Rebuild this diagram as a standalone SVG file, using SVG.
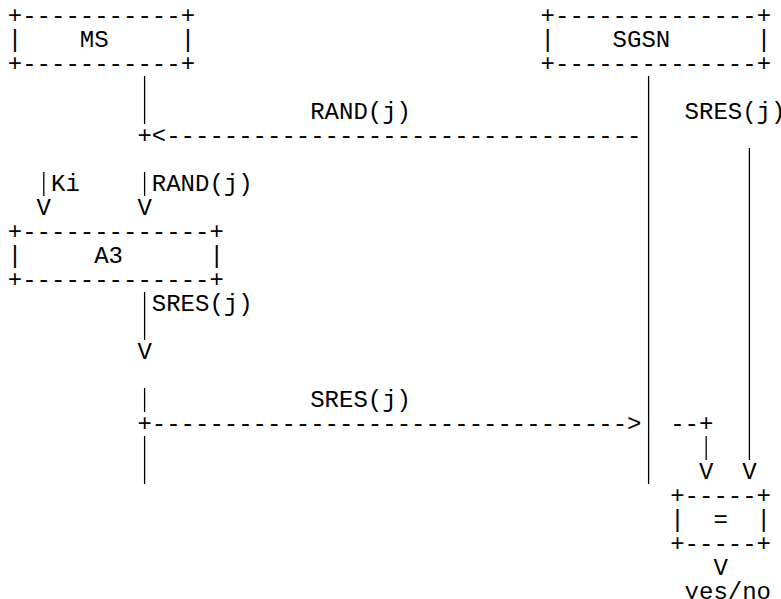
<svg xmlns="http://www.w3.org/2000/svg" width="781" height="599" viewBox="0 0 781 599" xml:space="preserve">
<style>
.t { font-family: "Liberation Mono", "Courier New", monospace; font-size: 24px; fill: #000; white-space: pre; }
.l { stroke: #000; stroke-width: 1.3; fill: none; }
</style>
<rect width="781" height="599" fill="#fff"/>
<g id="node-ms">
<text class="t" x="7.8" y="23">+-----------+</text>
<text class="t" x="7.8" y="47">|    MS     |</text>
<text class="t" x="7.8" y="71">+-----------+</text>
</g>
<g id="node-sgsn">
<text class="t" x="540.6" y="23">+--------------+</text>
<text class="t" x="540.6" y="47">|    SGSN      |</text>
<text class="t" x="540.6" y="71">+--------------+</text>
</g>
<g id="node-a3">
<text class="t" x="7.8" y="239">+-------------+</text>
<text class="t" x="7.8" y="263">|     A3      |</text>
<text class="t" x="7.8" y="287">+-------------+</text>
</g>
<g id="node-compare">
<text class="t" x="670.2" y="503">+-----+</text>
<text class="t" x="670.2" y="527">|  =  |</text>
<text class="t" x="670.2" y="551">+-----+</text>
</g>
<g id="connectors">
<line class="l" x1="144.6" y1="76" x2="144.6" y2="124"/>
<line class="l" x1="144.6" y1="172" x2="144.6" y2="196"/>
<line class="l" x1="43.8" y1="172" x2="43.8" y2="196"/>
<line class="l" x1="144.6" y1="292" x2="144.6" y2="340"/>
<line class="l" x1="144.6" y1="388" x2="144.6" y2="412"/>
<line class="l" x1="144.6" y1="436" x2="144.6" y2="484"/>
<line class="l" x1="648.6" y1="76" x2="648.6" y2="484"/>
<line class="l" x1="749.4" y1="148" x2="749.4" y2="460"/>
<line class="l" x1="706.2" y1="436" x2="706.2" y2="460"/>
<text class="t" x="310.2" y="119">RAND(j)</text>
<text class="t" x="684.6" y="119">SRES(j)</text>
<text class="t" x="137.4" y="143">+&lt;---------------------------------</text>
<text class="t" x="51" y="191">Ki</text>
<text class="t" x="151.8" y="191">RAND(j)</text>
<text class="t" x="36.6" y="215">V</text>
<text class="t" x="137.4" y="215">V</text>
<text class="t" x="151.8" y="311">SRES(j)</text>
<text class="t" x="137.4" y="359">V</text>
<text class="t" x="310.2" y="407">SRES(j)</text>
<text class="t" x="137.4" y="431">+---------------------------------&gt;</text>
<text class="t" x="670.2" y="431">--+</text>
<text class="t" x="699" y="479">V</text>
<text class="t" x="742.2" y="479">V</text>
<text class="t" x="713.4" y="575">V</text>
<text class="t" x="684.6" y="599">yes/no</text>
</g>
</svg>
